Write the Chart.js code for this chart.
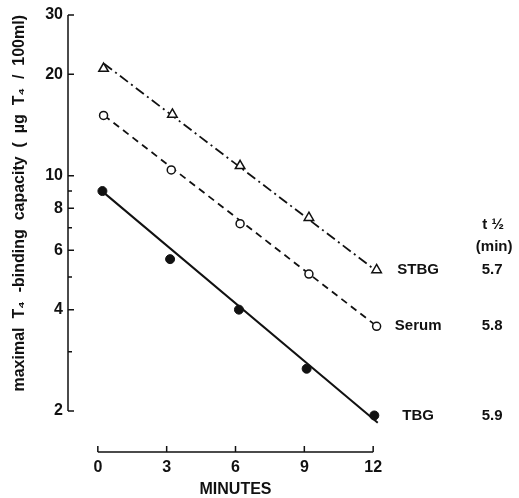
<!DOCTYPE html>
<html>
<head>
<meta charset="utf-8">
<title>Maximal T4-binding capacity vs time</title>
<script src="https://cdn.jsdelivr.net/npm/chart.js@4/dist/chart.umd.min.js"></script>
<style>
  html, body { margin: 0; padding: 0; background: #fff; }
  canvas { display: block; background: #fff; }
</style>
</head>
<body>
<canvas id="chart" width="519" height="498"></canvas>
<script>
(() => {
  "use strict";

  // Sampling times (min) and measured capacity (µg T4 / 100 ml)
  const stbgTimes   = [0.25, 3.25, 6.2, 9.2, 12.15];
  const stbgValues  = [20.8, 15.2, 10.7, 7.5, 5.25];
  const serumTimes  = [0.25, 3.2, 6.2, 9.2, 12.15];
  const serumValues = [15.1, 10.4, 7.2, 5.1, 3.57];
  const tbgTimes    = [0.2, 3.15, 6.15, 9.1, 12.05];
  const tbgValues   = [9.0, 5.65, 4.0, 2.67, 1.94];

  // Fitted decay lines: start / end points
  const stbgFitTimes  = [0.27, 12.16];
  const stbgFitValues = [21.5, 5.2];
  const serumFitTimes  = [0.27, 12.16];
  const serumFitValues = [15.1, 3.57];
  const tbgFitTimes  = [0.22, 12.2];
  const tbgFitValues = [8.95, 1.845];

  const seriesNames = ["STBG", "Serum", "TBG"];
  const halfLives   = ["5.7", "5.8", "5.9"];

  // Axis ticks
  const xTicks      = [0, 3, 6, 9, 12];
  const yTicks      = [2, 4, 6, 8, 10, 20, 30];
  const yMinorTicks = [3, 5, 7, 9];

  const FONT = "'Liberation Sans', Arial, Helvetica, sans-serif";
  const INK  = "#111";

  const pts = (ts, vs) => ts.map((t, i) => ({ x: t, y: vs[i] }));

  // ── Axes are drawn detached (x axis below the y axis end) ──────────
  const detachedAxes = {
    id: "detachedAxes",
    afterDraw(chart) {
      const { ctx, chartArea, scales: { x, y } } = chart;
      const axisY = chartArea.bottom;
      const axisX = chartArea.left;

      ctx.save();
      ctx.strokeStyle = INK;
      ctx.lineWidth = 1.5;
      ctx.beginPath();

      // x axis with upward ticks
      ctx.moveTo(x.getPixelForValue(xTicks[0]), axisY);
      ctx.lineTo(x.getPixelForValue(xTicks[xTicks.length - 1]), axisY);
      xTicks.forEach(t => {
        const px = x.getPixelForValue(t);
        ctx.moveTo(px, axisY);
        ctx.lineTo(px, axisY - 6);
      });

      // y axis with inward ticks
      ctx.moveTo(axisX, y.getPixelForValue(yTicks[yTicks.length - 1]));
      ctx.lineTo(axisX, y.getPixelForValue(yTicks[0]));
      yTicks.forEach(v => {
        const py = y.getPixelForValue(v);
        ctx.moveTo(axisX, py);
        ctx.lineTo(axisX + 6, py);
      });
      yMinorTicks.forEach(v => {
        const py = y.getPixelForValue(v);
        ctx.moveTo(axisX, py);
        ctx.lineTo(axisX + 4, py);
      });
      ctx.stroke();

      // series names and half-lives next to the line ends
      const xEnd = x.getPixelForValue(xTicks[xTicks.length - 1]);
      const nameX = xEnd + 45;
      const halfX = xEnd + 119;
      const lastValues = [stbgValues, serumValues, tbgValues].map(a => a[a.length - 1]);

      ctx.fillStyle = INK;
      ctx.textAlign = "center";
      ctx.textBaseline = "middle";
      ctx.font = "bold 15px " + FONT;
      lastValues.forEach((v, i) => {
        const py = y.getPixelForValue(v);
        ctx.fillText(seriesNames[i], nameX, py);
        ctx.fillText(halfLives[i], halfX, py);
      });

      const headY = y.getPixelForValue(lastValues[0]);
      ctx.fillText("t ½", halfX + 1, headY - 45);
      ctx.fillText("(min)", halfX + 2, headY - 23);
      ctx.restore();
    }
  };

  new Chart(document.getElementById("chart"), {
    type: "scatter",
    data: {
      datasets: [
        {
          label: "STBG",
          data: pts(stbgTimes, stbgValues),
          pointStyle: "triangle",
          pointRadius: 5.5,
          pointBorderWidth: 1.5,
          borderColor: INK,
          backgroundColor: "#fff",
          order: 1,
        },
        {
          label: "Serum",
          data: pts(serumTimes, serumValues),
          pointStyle: "circle",
          pointRadius: 4,
          pointBorderWidth: 1.5,
          borderColor: INK,
          backgroundColor: "#fff",
          order: 1,
        },
        {
          label: "TBG",
          data: pts(tbgTimes, tbgValues),
          pointStyle: "circle",
          pointRadius: 4.5,
          pointBorderWidth: 1,
          borderColor: INK,
          backgroundColor: INK,
          order: 1,
        },
        {
          label: "STBG fit",
          data: pts(stbgFitTimes, stbgFitValues),
          showLine: true,
          pointRadius: 0,
          borderColor: INK,
          borderWidth: 1.8,
          borderDash: [10, 4, 2, 4],
          order: 2,
        },
        {
          label: "Serum fit",
          data: pts(serumFitTimes, serumFitValues),
          showLine: true,
          pointRadius: 0,
          borderColor: INK,
          borderWidth: 1.8,
          borderDash: [7, 5],
          order: 2,
        },
        {
          label: "TBG fit",
          data: pts(tbgFitTimes, tbgFitValues),
          showLine: true,
          pointRadius: 0,
          borderColor: INK,
          borderWidth: 2,
          order: 2,
        },
      ],
    },
    options: {
      responsive: false,
      animation: false,
      events: [],
      layout: { padding: { top: 15, right: 116, bottom: 0, left: 0 } },
      plugins: {
        legend: { display: false },
        tooltip: { enabled: false },
      },
      scales: {
        x: {
          type: "linear",
          min: -1.3,
          max: 13.3,
          grid: { display: false, drawTicks: false },
          border: { display: false },
          afterBuildTicks: s => { s.ticks = xTicks.map(v => ({ value: v })); },
          afterFit: s => { s.height = 46; },
          ticks: {
            padding: 6,
            autoSkip: false,
            maxRotation: 0,
            color: INK,
            font: { family: FONT, size: 16, weight: "bold" },
          },
          title: {
            display: true,
            text: "MINUTES",
            color: INK,
            font: { family: FONT, size: 16, weight: "bold" },
            padding: { top: 0, bottom: -1 },
          },
        },
        y: {
          type: "logarithmic",
          min: 1.511,
          max: 30,
          grid: { display: false, drawTicks: false },
          border: { display: false },
          afterBuildTicks: s => { s.ticks = yTicks.map(v => ({ value: v })); },
          afterFit: s => { s.width = 68; },
          ticks: {
            padding: 5,
            autoSkip: false,
            color: INK,
            font: { family: FONT, size: 16, weight: "bold" },
            callback: v => String(v),
          },
          title: {
            display: true,
            align: "end",
            text: "maximal  T₄  -binding  capacity  (  µg  T₄  /  100ml)",
            color: INK,
            font: { family: FONT, size: 16, weight: "bold" },
            padding: { top: 10, bottom: 0 },
          },
        },
      },
    },
    plugins: [detachedAxes],
  });
})();
</script>
</body>
</html>
